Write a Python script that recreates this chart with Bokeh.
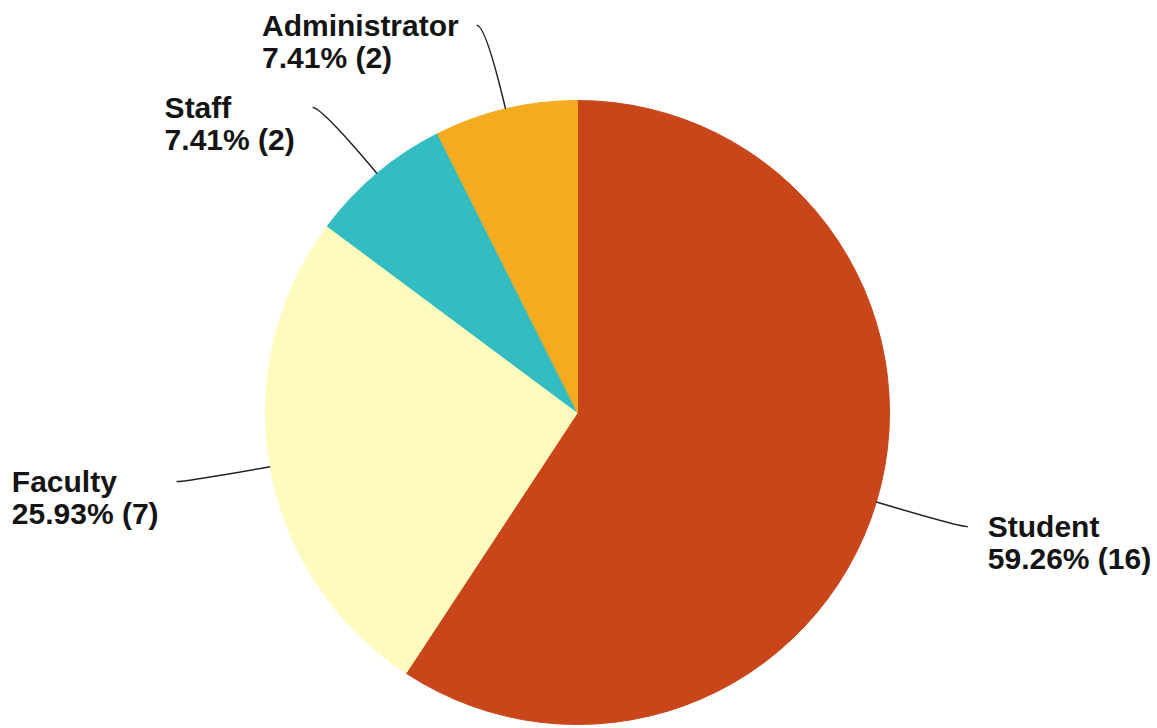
import math
from bokeh.plotting import figure
from bokeh.models import ColumnDataSource
from bokeh.core.properties import value
from bokeh.embed import file_html
from bokeh.resources import INLINE

# ---- data ----
categories = ["Student", "Faculty", "Staff", "Administrator"]
counts = [16, 7, 2, 2]
colors = ["#C9461B", "#FFFBBE", "#33BCC1", "#F5AB20"]

W, H = 1157, 728
CX, CY, R = 577, H - 412, 312
FONT = "Liberation Sans"
FS = 30
LINE_GAP = 32

# Arial/Liberation Sans Bold advance widths (per em)
CW = {" ": .278, "%": .889, "(": .333, ")": .333, ".": .278, "A": .722, "F": .611,
      "S": .667, "a": .556, "c": .556, "d": .611, "e": .556, "f": .333, "i": .278,
      "l": .278, "m": .889, "n": .611, "o": .611, "r": .389, "s": .556, "t": .333,
      "u": .611, "y": .556}
def tw(s):
    return sum(CW.get(ch, .556) for ch in s) * FS

total = sum(counts)
p = figure(width=W, height=H, x_range=(0, W), y_range=(0, H),
           output_backend="svg", toolbar_location=None, min_border=0)
p.axis.visible = False
p.grid.visible = False
p.outline_line_color = None
p.background_fill_color = "white"

starts, ends, mids = [], [], []
cum = 0.0
for c in counts:
    a0 = cum / total * 360
    cum += c
    a1 = cum / total * 360
    # clockwise from 12 o'clock -> bokeh anticlockwise from +x
    starts.append(math.radians(90 - a1))
    ends.append(math.radians(90 - a0))
    mids.append((a0 + a1) / 2)

src = ColumnDataSource(dict(start=starts, end=ends, color=colors))
p.wedge(x=CX, y=CY, radius=R, start_angle="start", end_angle="end",
        fill_color="color", line_color="color", line_width=1, source=src)

x0s, y0s, x1s, y1s, cxs, cys = [], [], [], [], [], []
tx, ty, tt = [], [], []
for name, c, m in zip(categories, counts, mids):
    dx, dy = math.sin(math.radians(m)), math.cos(math.radians(m))
    sx, sy = CX + R * dx, CY + R * dy
    ccx, ccy = CX + 398 * dx, CY + 398 * dy
    side = 1 if dx > 0 else -1
    ex, ey = ccx + side * 9, ccy
    x0s.append(sx); y0s.append(sy); cxs.append(ccx); cys.append(ccy)
    x1s.append(ex); y1s.append(ey)
    l1 = name
    l2 = f"{c / total * 100:.2f}% ({c})"
    bw = max(tw(l1), tw(l2))
    lx = ex + 20 if side > 0 else ex - 18 - bw
    tx += [lx, lx]; ty += [ey, ey - LINE_GAP]; tt += [l1, l2]

p.quadratic(x0=x0s, y0=y0s, x1=x1s, y1=y1s, cx=cxs, cy=cys,
            line_color="#222222", line_width=1.5)
p.text(x=tx, y=ty, text=tt, text_font=value(FONT), text_font_style="bold",
       text_font_size=f"{FS}px", text_baseline="middle", text_align="left",
       text_color="#141414")

open("out.html", "w").write(file_html(p, INLINE))
